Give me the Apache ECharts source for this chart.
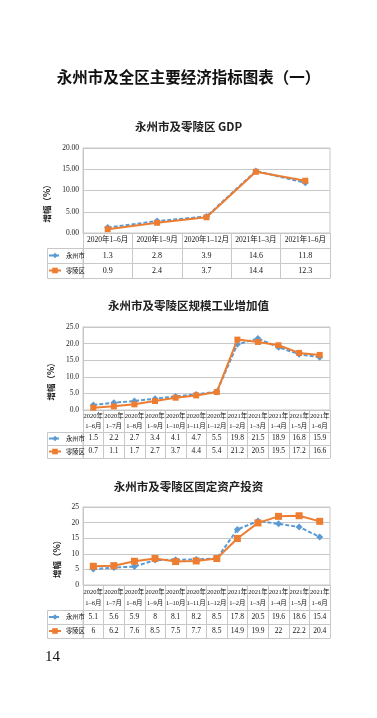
<!DOCTYPE html>
<html>
<head>
<meta charset="utf-8">
<script src="https://cdn.jsdelivr.net/npm/echarts@6/dist/echarts.min.js"></script>
<style>
  html, body { margin: 0; padding: 0; background: #fff; }
  #main { width: 377px; height: 718px; }
</style>
</head>
<body>
<div id="main"></div>
<script>
// GDP
const gdpCategories = ["2020年1–6月", "2020年1–9月", "2020年1–12月", "2021年1–3月", "2021年1–6月"];
const gdpYongzhou = [1.3, 2.8, 3.9, 14.6, 11.8];
const gdpLingling = [0.9, 2.4, 3.7, 14.4, 12.3];

// months shared by the two lower charts
const monthCategories = [
  "2020年\n1–6月", "2020年\n1–7月", "2020年\n1–8月", "2020年\n1–9月",
  "2020年\n1–10月", "2020年\n1–11月", "2020年\n1–12月", "2021年\n1–2月",
  "2021年\n1–3月", "2021年\n1–4月", "2021年\n1–5月", "2021年\n1–6月",
];

// 规模工业增加值
const industryYongzhou = [1.5, 2.2, 2.7, 3.4, 4.1, 4.7, 5.5, 19.8, 21.5, 18.9, 16.8, 15.9];
const industryLingling = [0.7, 1.1, 1.7, 2.7, 3.7, 4.4, 5.4, 21.2, 20.5, 19.5, 17.2, 16.6];

// 固定资产投资
const investYongzhou = [5.1, 5.6, 5.9, 8, 8.1, 8.2, 8.5, 17.8, 20.5, 19.6, 18.6, 15.4];
const investLingling = [6, 6.2, 7.6, 8.5, 7.5, 7.7, 8.5, 14.9, 19.9, 22, 22.2, 20.4];

const seriesNames = ["永州市", "零陵区"];

const SERIF = '"Liberation Serif", "Noto Sans CJK SC", serif';
const CJK = '"Noto Sans CJK SC", sans-serif';
const LINE = "#c8c8c8";
const BLUE = "#5b9bd5";
const ORANGE = "#ed7d31";

const myChart = echarts.init(document.getElementById("main"));

const option = {
  animation: false,
  backgroundColor: "#fff",
  title: [
    { text: "永州市及全区主要经济指标图表（一）", left: "center", top: 69, padding: 0,
      textStyle: { fontFamily: CJK, fontSize: 15.5, fontWeight: "bold", color: "#111" } },
    { text: "永州市及零陵区 GDP", left: "center", top: 121, padding: 0,
      textStyle: { fontFamily: CJK, fontSize: 11.5, fontWeight: "bold", color: "#222" } },
    { text: "永州市及零陵区规模工业增加值", left: "center", top: 300, padding: 0,
      textStyle: { fontFamily: CJK, fontSize: 11.5, fontWeight: "bold", color: "#222" } },
    { text: "永州市及零陵区固定资产投资", left: "center", top: 481, padding: 0,
      textStyle: { fontFamily: CJK, fontSize: 11.5, fontWeight: "bold", color: "#222" } },
    { text: "14", left: 45, top: 650, padding: 0,
      textStyle: { fontFamily: SERIF, fontSize: 15, fontWeight: "normal", color: "#111" } },
  ],
  grid: [],
  xAxis: [],
  yAxis: [],
  series: [],
  legend: [],
  graphic: [],
};

function addPanel(p) {
  const g = option.grid.length;
  const bottom = p.top + p.height;
  const tableH = p.catH + 2 * p.rowH;

  option.grid.push({
    left: 83, top: p.top, width: 247, height: p.height,
    show: true, borderColor: LINE, borderWidth: 1,
  });

  const yIndex = option.yAxis.length;
  option.yAxis.push({
    gridIndex: g, type: "value", min: 0, max: p.max, interval: 5,
    axisLine: { show: true, lineStyle: { color: LINE } },
    axisTick: { show: false },
    splitLine: { lineStyle: { color: LINE } },
    axisLabel: {
      formatter: (v) => v.toFixed(p.decimals),
      fontFamily: SERIF, fontSize: 7.5, color: "#222", margin: 4,
    },
    name: "增幅（%）", nameLocation: "middle", nameRotate: 90, nameGap: 21,
    nameTextStyle: { fontFamily: CJK, fontSize: 8.5, fontWeight: "bold", color: "#222", padding: [0, 22, 0, 0] },
  });

  // category row, its ticks make the table's column lines
  const xIndex = option.xAxis.length;
  option.xAxis.push({
    gridIndex: g, type: "category", position: "bottom", data: p.categories, boundaryGap: true,
    axisLine: { lineStyle: { color: LINE } },
    axisTick: { show: true, interval: 0, length: tableH, lineStyle: { color: LINE } },
    axisLabel: {
      interval: 0, margin: p.catH / 2, verticalAlign: "middle",
      fontFamily: SERIF, fontSize: p.catFont, lineHeight: p.catLine, color: "#111",
    },
  });

  // value rows of the data table
  [p.yongzhou, p.lingling].forEach((vals, i) => {
    option.xAxis.push({
      gridIndex: g, type: "category", position: "bottom", offset: p.catH + i * p.rowH,
      data: vals.map((v, k) => "c" + k),
      axisLine: { lineStyle: { color: LINE } },
      axisTick: { show: false },
      axisLabel: {
        interval: 0, margin: p.rowH / 2, verticalAlign: "middle",
        formatter: (v, k) => String(vals[k]),
        fontFamily: SERIF, fontSize: p.valFont, color: "#111",
      },
    });
  });
  option.xAxis.push({
    gridIndex: g, type: "category", position: "bottom", offset: tableH,
    data: p.categories, axisLine: { lineStyle: { color: LINE } },
    axisTick: { show: false }, axisLabel: { show: false },
  });

  option.series.push({
    name: seriesNames[0], type: "line", xAxisIndex: xIndex, yAxisIndex: yIndex,
    data: p.yongzhou, color: BLUE, symbol: "diamond", symbolSize: 7,
    lineStyle: { width: 2, type: [4, 2] }, itemStyle: { color: BLUE }, z: 3,
  });
  option.series.push({
    name: seriesNames[1], type: "line", xAxisIndex: xIndex, yAxisIndex: yIndex,
    data: p.lingling, color: ORANGE, symbol: "rect", symbolSize: p.rectSize,
    lineStyle: { width: 2 }, itemStyle: { color: ORANGE }, z: 4,
  });

  option.legend.push({
    data: seriesNames, orient: "vertical", left: 48, top: bottom + p.catH,
    itemGap: 0, itemWidth: 12, itemHeight: 7, padding: 0, selectedMode: false,
    textStyle: { fontFamily: CJK, fontSize: 6.3, lineHeight: p.rowH, color: "#111" },
  });

  const rowTop = bottom + p.catH + 0.5;
  option.graphic.push({
    type: "rect", silent: true,
    shape: { x: 47.5, y: rowTop, width: 35.5, height: 2 * p.rowH },
    style: { fill: "none", stroke: LINE, lineWidth: 1 },
  });
  option.graphic.push({
    type: "line", silent: true,
    shape: { x1: 47.5, y1: rowTop + p.rowH, x2: 83, y2: rowTop + p.rowH },
    style: { stroke: LINE, lineWidth: 1 },
  });
}

addPanel({ top: 148, height: 85, max: 20, decimals: 2, categories: gdpCategories,
  yongzhou: gdpYongzhou, lingling: gdpLingling,
  catH: 15, rowH: 15, catFont: 7.5, catLine: 10, valFont: 8, rectSize: 6 });
addPanel({ top: 327, height: 83, max: 25, decimals: 1, categories: monthCategories,
  yongzhou: industryYongzhou, lingling: industryLingling,
  catH: 22, rowH: 13, catFont: 6.5, catLine: 10, valFont: 7.5, rectSize: 6 });
addPanel({ top: 507, height: 78, max: 25, decimals: 0, categories: monthCategories,
  yongzhou: investYongzhou, lingling: investLingling,
  catH: 25, rowH: 14, catFont: 6.5, catLine: 11, valFont: 7.5, rectSize: 7 });

myChart.setOption(option);
</script>
</body>
</html>
